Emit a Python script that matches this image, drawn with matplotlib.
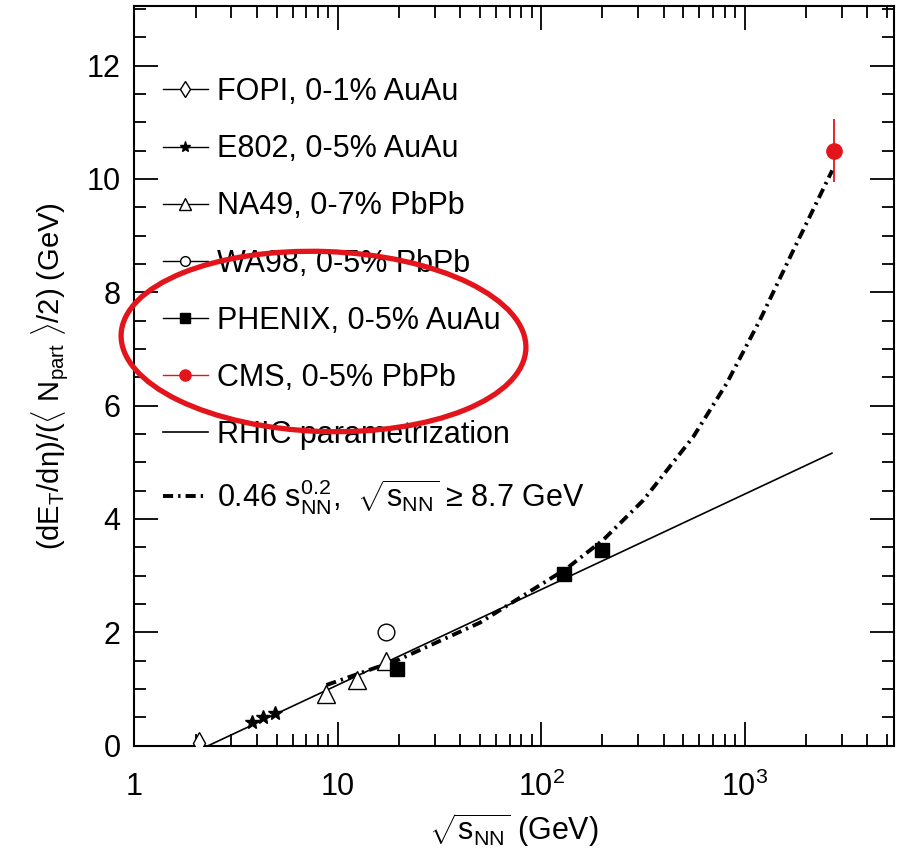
import matplotlib
matplotlib.use('Agg')
import matplotlib.pyplot as plt
from matplotlib.lines import Line2D
from matplotlib.patches import Ellipse
from matplotlib.ticker import LogLocator, MultipleLocator, NullFormatter

plt.rcParams['font.family'] = ['Liberation Sans', 'DejaVu Sans']
plt.rcParams['mathtext.fontset'] = 'custom'
plt.rcParams['mathtext.rm'] = 'Liberation Sans'
plt.rcParams['mathtext.it'] = 'Liberation Sans:italic'
plt.rcParams['mathtext.sf'] = 'Liberation Sans'

# data
fopi_x = [2.07]
fopi_y = [0.05]
e802_x = [3.8, 4.3, 4.9]
e802_y = [0.41, 0.50, 0.58]
na49_x = [8.8, 12.5, 17.3]
na49_y = [0.91, 1.16, 1.49]
wa98_x = [17.3]
wa98_y = [2.0]
phenix_x = [19.6, 130, 200]
phenix_y = [1.36, 3.03, 3.45]
cms_x = [2760]
cms_y = [10.5]
cms_err = [0.55]

# RHIC parametrization (straight in log x)
rhic_x = [2.31, 2690]
rhic_y = [0.0, 5.16]

# 0.46 s^0.2 curve
pow_x = [8.8, 20, 50, 134, 202, 318, 560, 817, 1191, 1738, 2700]
pow_y = [1.07, 1.52, 2.17, 3.13, 3.63, 4.33, 5.45, 6.39, 7.51, 8.74, 10.15]

labels = ['FOPI, 0-1% AuAu', 'E802, 0-5% AuAu', 'NA49, 0-7% PbPb',
          'WA98, 0-5% PbPb', 'PHENIX, 0-5% AuAu', 'CMS, 0-5% PbPb',
          'RHIC parametrization',
          r'0.46 $\mathrm{s}_{\mathrm{NN}}^{0.2}$,  $\sqrt{\mathrm{s}_{\mathrm{NN}}}$ ≥ 8.7 GeV']

red = '#e3141b'
dashdot = (0, (2.6, 1.3, 0.6, 1.3))

fig = plt.figure(figsize=(8.98, 8.57), dpi=100)
ax = fig.add_axes([0.1496, 0.1299, 0.8459, 0.8631])

ax.plot(rhic_x, rhic_y, color='k', lw=1.2, zorder=2)
ax.plot(pow_x, pow_y, color='k', lw=2.8, linestyle=dashdot, zorder=2)

ax.plot(fopi_x, fopi_y, linestyle='none', marker='d', ms=11, mfc='white', mec='k', mew=1.0, zorder=3)
ax.plot(e802_x, e802_y, linestyle='none', marker='*', ms=10, color='k', zorder=3)
ax.plot(na49_x, na49_y, linestyle='none', marker='^', ms=13, mfc='white', mec='k', mew=1.0, zorder=3)
ax.plot(wa98_x, wa98_y, linestyle='none', marker='o', ms=12, mfc='white', mec='k', mew=1.0, zorder=3)
ax.plot(phenix_x, phenix_y, linestyle='none', marker='s', ms=10, color='k', zorder=3)
ax.errorbar(cms_x, cms_y, yerr=cms_err, fmt='o', ms=11, color=red, ecolor=red, elinewidth=1.3, capsize=0, zorder=3)

ax.set_xscale('log')
ax.set_xlim(1, 5430)
ax.set_ylim(0, 13.05)

ax.set_xticks([1, 10, 100, 1000], labels=['1', '10', r'$10^2$', r'$10^3$'])
ax.xaxis.set_minor_locator(LogLocator(base=10, subs=range(2, 10), numticks=20))
ax.xaxis.set_minor_formatter(NullFormatter())
ax.yaxis.set_major_locator(MultipleLocator(2))
ax.yaxis.set_minor_locator(MultipleLocator(0.5))

ax.tick_params(which='both', direction='in', top=True, right=True, width=1.3, labelsize=22)
ax.tick_params(which='major', length=17)
ax.tick_params(which='minor', length=8.5)
ax.tick_params(axis='x', pad=19)
ax.tick_params(axis='y', pad=10)
for sp in ax.spines.values():
    sp.set_linewidth(1.5)

ax.set_xlabel(r'$\sqrt{\mathrm{s}_{\mathrm{NN}}}$ (GeV)', fontsize=22, labelpad=6)
ax.set_ylabel(r'(dE$_{\mathrm{T}}$/d$\mathrm{\eta}$)/($\langle$ N$_{\mathrm{part}}$ $\rangle$/2) (GeV)',
              fontsize=21, labelpad=12)

handles = [
    Line2D([], [], color='k', lw=1.0, marker='d', ms=8, mfc='white', mec='k'),
    Line2D([], [], color='k', lw=1.0, marker='*', ms=8),
    Line2D([], [], color='k', lw=1.0, marker='^', ms=8, mfc='white', mec='k'),
    Line2D([], [], color='k', lw=1.0, marker='o', ms=7, mfc='white', mec='k'),
    Line2D([], [], color='k', lw=1.0, marker='s', ms=7),
    Line2D([], [], color=red, lw=1.0, marker='o', ms=8),
    Line2D([], [], color='k', lw=1.2),
    Line2D([], [], color='k', lw=2.8, linestyle=dashdot),
]
ax.legend(handles, labels, loc='upper left', bbox_to_anchor=(0.038, 0.904),
          frameon=False, fontsize=22, handlelength=1.45, handletextpad=0.3,
          labelspacing=0.89, borderpad=0, borderaxespad=0)

ell = Ellipse((3.235, 8.57 - 3.415), 4.05, 1.80, angle=-2, transform=fig.dpi_scale_trans,
              fill=False, edgecolor=red, lw=3.8, clip_on=False, zorder=10)
ax.add_patch(ell)

fig.savefig('out.png', dpi=100)
